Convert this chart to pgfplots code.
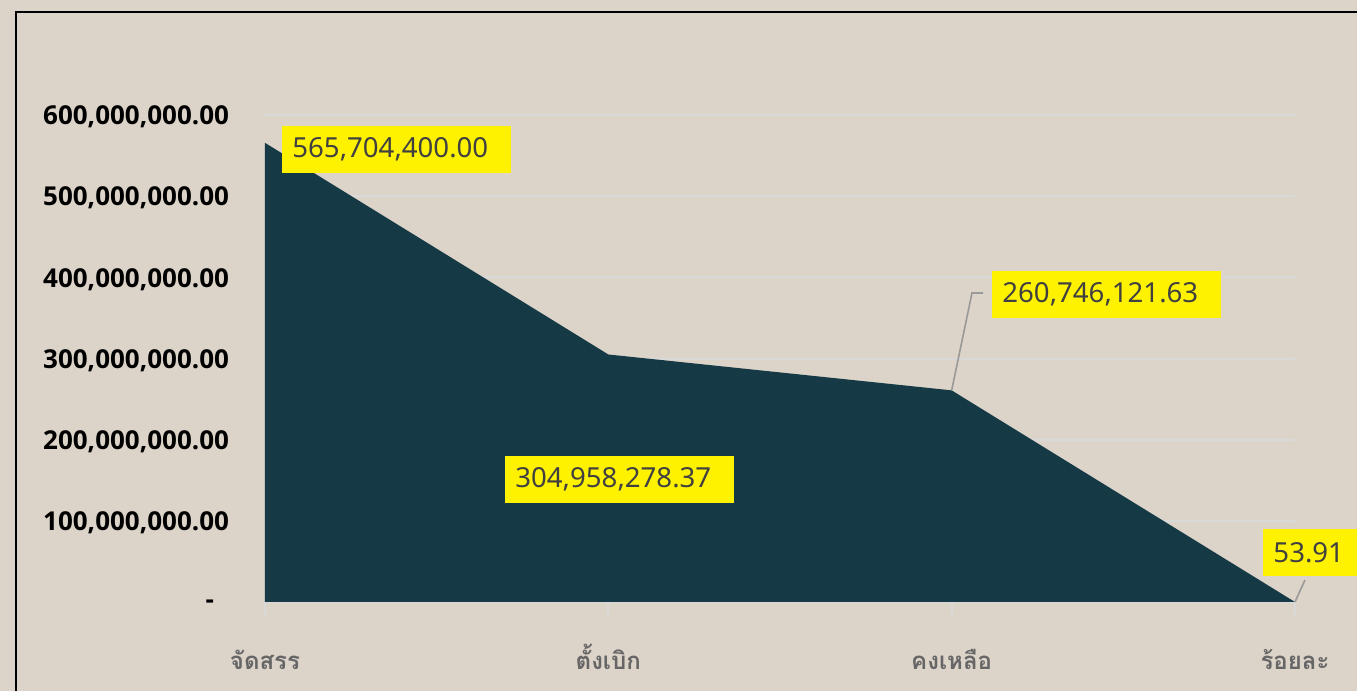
\documentclass[border=0pt]{standalone}
\usepackage{fontspec}
\setmainfont{Open Sans}
\newfontfamily\thaifont[Script=Thai]{Loma}
\newfontfamily\lblfont{Noto Sans}
\usepackage{pgfplots}
\pgfplotsset{compat=1.18}
\definecolor{bg}{HTML}{DCD3C9}
\definecolor{areac}{HTML}{153A45}
\definecolor{gridc}{HTML}{D9D9D9}
\definecolor{lbltext}{HTML}{404040}
\definecolor{cattext}{HTML}{666666}
\tikzset{lbl/.style={fill=yellow, text=lbltext, font=\lblfont\fontsize{13.8}{16}\selectfont,
    minimum height=23.5pt, text width=104.5pt, inner xsep=5pt, inner ysep=0pt, align=left, anchor=west}}
\begin{document}
\begin{tikzpicture}
\useasboundingbox (0pt,0pt) rectangle (678.5pt,345.5pt);
\clip (0pt,0pt) rectangle (678.5pt,345.5pt);
\fill[bg] (0pt,0pt) rectangle (678.5pt,345.5pt);
\draw[black, line width=1.2pt] (8pt,339.5pt) rectangle (700pt,-20pt);
\begin{axis}[
  at={(132.5pt,44.5pt)}, anchor=south west,
  width=515pt, height=243.5pt, scale only axis,
  xmin=0, xmax=3, ymin=0, ymax=600000000,
  clip=false,
  axis line style={draw=none},
  ymajorgrids, grid style={gridc, line width=1pt},
  xtick={0,1,2,3},
  xticklabels={จัดสรร, ตั้งเบิก, คงเหลือ, ร้อยละ},
  xtick pos=bottom, tick align=outside,
  xtick style={draw=gridc, line width=1pt},
  major tick length=6.5pt,
  ytick style={draw=none},
  ytick={0,100000000,200000000,300000000,400000000,500000000,600000000},
  yticklabels={{-\kern7.5pt},{100,000,000.00},{200,000,000.00},{300,000,000.00},{400,000,000.00},{500,000,000.00},{600,000,000.00}},
  scaled y ticks=false,
  xticklabel style={font=\thaifont\bfseries\fontsize{12}{14}\selectfont, text=cattext, anchor=base, yshift=-27.5pt},
  yticklabel style={font=\bfseries\fontsize{13}{15}\selectfont, text=black, anchor=east, xshift=-8pt, yshift=-1pt},
]
\addplot[fill=areac, draw=none] coordinates {(0,565704400) (1,304958278.37) (2,260746121.63) (3,53.91)} \closedcycle;
\draw[gray!80, line width=0.8pt] (axis cs:2,260746121.63) -- (axis cs:2.0592,380700000) -- (axis cs:2.0913,380700000);
\draw[gray!80, line width=0.8pt] (axis cs:3,53.91) -- (axis cs:3.029,27100000);
\node[lbl] at (axis cs:0.0495,557500000) {565,704,400.00};
\node[lbl] at (axis cs:0.699,150900000) {304,958,278.37};
\node[lbl] at (axis cs:2.1175,378800000) {260,746,121.63};
\node[lbl] at (axis cs:2.907,61000000) {53.91};
\end{axis}
\end{tikzpicture}
\end{document}
